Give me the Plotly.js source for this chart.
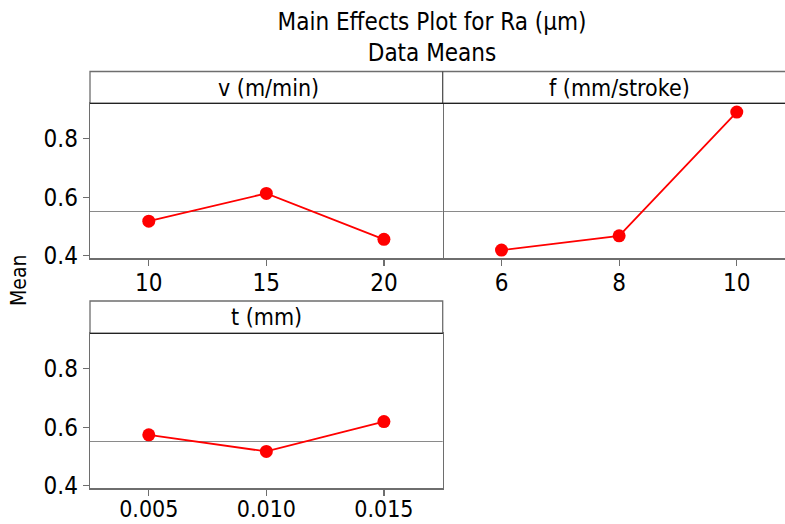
<!DOCTYPE html>
<html>
<head>
<meta charset="utf-8">
<script src="https://cdn.plot.ly/plotly-3.0.1.min.js"></script>
<style>
html,body{margin:0;padding:0;background:#fff;overflow:hidden;}
#chart{width:785px;height:524px;}
</style>
</head>
<body>
<div id="chart"></div>
<script>
// ---- data ----
const vLevels = [10, 15, 20];
const vMeans  = [0.518, 0.613, 0.456];
const fLevels = [6, 8, 10];
const fMeans  = [0.419, 0.468, 0.891];
const tLevels = [0.005, 0.010, 0.015];
const tMeans  = [0.574, 0.517, 0.619];
const tLabels = ['0.005', '0.010', '0.015'];
const grandMean = 0.551;
const yTicks = [0.4, 0.6, 0.8];
const panelTitles = ['v (m/min)', 'f (mm/stroke)', 't (mm)'];

// ---- layout constants ----
const W = 785, H = 524;
const FONT = 'DejaVu Sans Condensed, DejaVu Sans, sans-serif';
const px = x => x / W;
const py = y => (H - y) / H;
const axCol = '#6e6e6e';

const L = 90, M = 442.7;
const row1 = {top: 103.3, bot: 258.3, head: 71.5};
const row2 = {top: 333.3, bot: 488.3, head: 301};

const marker = {color: '#ff0000', size: 13};
const line = {color: '#ff0000', width: 1.8};

const traces = [
  {x: vLevels, y: vMeans, xaxis: 'x', yaxis: 'y', mode: 'lines+markers', marker, line, hoverinfo: 'x+y'},
  {x: fLevels, y: fMeans, xaxis: 'x2', yaxis: 'y2', mode: 'lines+markers', marker, line, hoverinfo: 'x+y'},
  {x: tLevels, y: tMeans, xaxis: 'x3', yaxis: 'y3', mode: 'lines+markers', marker, line, hoverinfo: 'x+y'}
];

const baseAx = {
  showline: true, linecolor: axCol, linewidth: 1.3, mirror: true,
  showgrid: false, zeroline: false,
  ticks: 'outside', ticklen: 6, tickcolor: axCol, tickwidth: 1.2,
  tickfont: {family: FONT, size: 24, color: '#000'}
};
const xExtra = {ticklabelstandoff: -3};
const yRange = [0.391, 0.921];

const layout = {
  width: W, height: H, autosize: false,
  margin: {l: 0, r: 0, t: 0, b: 0, pad: 0},
  paper_bgcolor: '#fff', plot_bgcolor: '#fff',
  showlegend: false,
  font: {family: FONT, color: '#000'},
  title: {
    text: 'Main Effects Plot for Ra (µm)<br>Data Means',
    font: {family: FONT, size: 24, color: '#000'},
    x: px(432), xref: 'paper', xanchor: 'center',
    y: 1 - 30 / H, yref: 'container', yanchor: 'top'
  },
  xaxis: Object.assign({}, baseAx, xExtra, {domain: [px(L), px(M)], anchor: 'y', range: [7.5, 22.5], tickvals: vLevels}),
  yaxis: Object.assign({}, baseAx, {domain: [py(row1.bot), py(row1.top)], anchor: 'x', range: yRange, tickvals: yTicks}),
  xaxis2: Object.assign({}, baseAx, xExtra, {domain: [px(M), 1], anchor: 'y2', range: [5, 10.82], tickvals: fLevels}),
  yaxis2: Object.assign({}, baseAx, {domain: [py(row1.bot), py(row1.top)], anchor: 'x2', range: yRange, ticks: '', showticklabels: false, showline: false}),
  xaxis3: Object.assign({}, baseAx, {domain: [px(L), px(M)], anchor: 'y3', range: [0.0025, 0.0175], tickvals: tLevels, ticktext: tLabels,
    ticklabelstandoff: -6, tickfont: {family: FONT, size: 23, color: '#000'}}),
  yaxis3: Object.assign({}, baseAx, {domain: [py(row2.bot), py(row2.top)], anchor: 'x3', range: yRange, tickvals: yTicks}),
  shapes: [
    // header bands
    {type: 'rect', xref: 'paper', yref: 'paper', x0: px(L), x1: 1.01, y0: py(row1.top), y1: py(row1.head), line: {color: axCol, width: 1.3}, fillcolor: '#fff'},
    {type: 'line', xref: 'paper', yref: 'paper', x0: px(M), x1: px(M), y0: py(row1.top), y1: py(row1.head), line: {color: '#444', width: 1.2}},
    {type: 'line', xref: 'paper', yref: 'paper', x0: px(L), x1: 1.01, y0: py(row1.top), y1: py(row1.top), line: {color: '#222', width: 1.3}},
    {type: 'rect', xref: 'paper', yref: 'paper', x0: px(L), x1: px(M), y0: py(row2.top), y1: py(row2.head), line: {color: axCol, width: 1.3}, fillcolor: '#fff'},
    {type: 'line', xref: 'paper', yref: 'paper', x0: px(L), x1: px(M), y0: py(row2.top), y1: py(row2.top), line: {color: '#222', width: 1.3}},
    // grand mean reference lines
    {type: 'line', layer: 'below', xref: 'x domain', yref: 'y', x0: 0, x1: 1, y0: grandMean, y1: grandMean, line: {color: '#8a8a8a', width: 1.2}},
    {type: 'line', layer: 'below', xref: 'x2 domain', yref: 'y2', x0: 0, x1: 1, y0: grandMean, y1: grandMean, line: {color: '#8a8a8a', width: 1.2}},
    {type: 'line', layer: 'below', xref: 'x3 domain', yref: 'y3', x0: 0, x1: 1, y0: grandMean, y1: grandMean, line: {color: '#8a8a8a', width: 1.2}}
  ],
  annotations: [
    {text: panelTitles[0], xref: 'paper', yref: 'paper', x: px((L + M) / 2 + 2), y: py(87.5), xanchor: 'center', yanchor: 'middle', showarrow: false, font: {family: FONT, size: 23, color: '#000'}},
    {text: panelTitles[1], xref: 'paper', yref: 'paper', x: px(619), y: py(87.5), xanchor: 'center', yanchor: 'middle', showarrow: false, font: {family: FONT, size: 23, color: '#000'}},
    {text: panelTitles[2], xref: 'paper', yref: 'paper', x: px((L + M) / 2), y: py(317), xanchor: 'center', yanchor: 'middle', showarrow: false, font: {family: FONT, size: 23, color: '#000'}},
    {text: 'Mean', xref: 'paper', yref: 'paper', x: px(19), y: py(280), xanchor: 'center', yanchor: 'middle', textangle: -90, showarrow: false, font: {family: FONT, size: 21, color: '#000'}}
  ]
};

Plotly.newPlot('chart', traces, layout, {displayModeBar: false, staticPlot: true});
</script>
</body>
</html>
